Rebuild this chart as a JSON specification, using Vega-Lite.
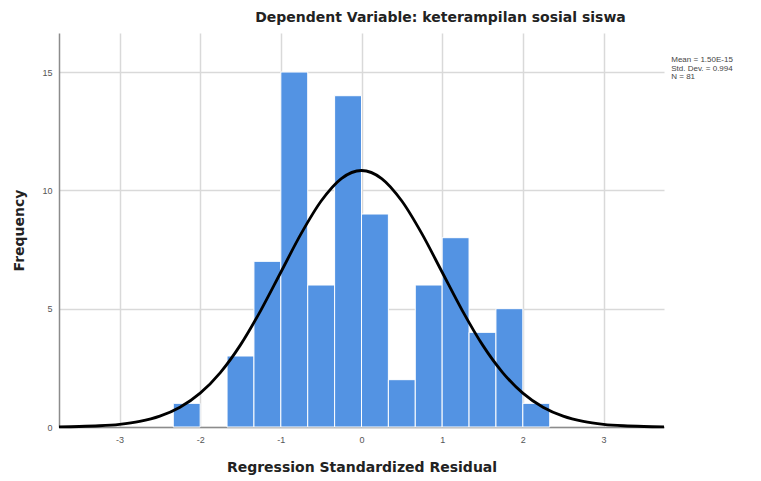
{
  "$schema": "https://vega.github.io/schema/vega-lite/v6.json",
  "width": 605,
  "height": 394,
  "autosize": {"type": "none"},
  "padding": {"left": 59, "top": 33, "right": 97, "bottom": 54},
  "background": "white",
  "title": {
    "text": "Dependent Variable: keterampilan sosial siswa",
    "font": "DejaVu Sans",
    "fontSize": 14,
    "fontWeight": "bold",
    "color": "#222222",
    "anchor": "middle",
    "dx": 79,
    "offset": 8
  },
  "config": {
    "view": {"stroke": null},
    "axis": {
      "grid": true,
      "gridColor": "#d9d9d9",
      "gridWidth": 1.5,
      "domainColor": "#8c8c8c",
      "domainWidth": 1.5,
      "ticks": false,
      "labelFont": "Liberation Sans",
      "labelFontSize": 9,
      "labelColor": "#555555",
      "titleFont": "DejaVu Sans",
      "titleFontSize": 14,
      "titleFontWeight": "bold",
      "titleColor": "#222222"
    }
  },
  "datasets": {
    "bins": [
      {"x0": -2.3333, "x1": -2.0, "count": 1},
      {"x0": -1.6667, "x1": -1.3333, "count": 3},
      {"x0": -1.3333, "x1": -1.0, "count": 7},
      {"x0": -1.0, "x1": -0.6667, "count": 15},
      {"x0": -0.6667, "x1": -0.3333, "count": 6},
      {"x0": -0.3333, "x1": 0.0, "count": 14},
      {"x0": 0.0, "x1": 0.3333, "count": 9},
      {"x0": 0.3333, "x1": 0.6667, "count": 2},
      {"x0": 0.6667, "x1": 1.0, "count": 6},
      {"x0": 1.0, "x1": 1.3333, "count": 8},
      {"x0": 1.3333, "x1": 1.6667, "count": 4},
      {"x0": 1.6667, "x1": 2.0, "count": 5},
      {"x0": 2.0, "x1": 2.3333, "count": 1}
    ],
    "curve": [
      {"x": -3.75, "y": 0.009},
      {"x": -3.5, "y": 0.022},
      {"x": -3.25, "y": 0.052},
      {"x": -3.0, "y": 0.114},
      {"x": -2.75, "y": 0.236},
      {"x": -2.5, "y": 0.458},
      {"x": -2.25, "y": 0.836},
      {"x": -2.0, "y": 1.43},
      {"x": -1.75, "y": 2.30},
      {"x": -1.5, "y": 3.47},
      {"x": -1.25, "y": 4.92},
      {"x": -1.0, "y": 6.54},
      {"x": -0.75, "y": 8.16},
      {"x": -0.5, "y": 9.55},
      {"x": -0.25, "y": 10.50},
      {"x": 0.0, "y": 10.84},
      {"x": 0.25, "y": 10.50},
      {"x": 0.5, "y": 9.55},
      {"x": 0.75, "y": 8.16},
      {"x": 1.0, "y": 6.54},
      {"x": 1.25, "y": 4.92},
      {"x": 1.5, "y": 3.47},
      {"x": 1.75, "y": 2.30},
      {"x": 2.0, "y": 1.43},
      {"x": 2.25, "y": 0.836},
      {"x": 2.5, "y": 0.458},
      {"x": 2.75, "y": 0.236},
      {"x": 3.0, "y": 0.114},
      {"x": 3.25, "y": 0.052},
      {"x": 3.5, "y": 0.022},
      {"x": 3.75, "y": 0.009}
    ],
    "stats": [
      {"x": 3.84, "y": 15.5, "label": "Mean = 1.50E-15"},
      {"x": 3.84, "y": 15.14, "label": "Std. Dev. = 0.994"},
      {"x": 3.84, "y": 14.78, "label": "N = 81"}
    ]
  },
  "layer": [
    {
      "data": {"name": "bins"},
      "mark": {"type": "rect", "color": "#5393e3", "stroke": "white", "strokeWidth": 1},
      "encoding": {
        "x": {
          "field": "x0", "type": "quantitative",
          "scale": {"domain": [-3.75, 3.75], "nice": false, "zero": false},
          "axis": {"values": [-3, -2, -1, 0, 1, 2, 3], "labelExpr": "'' + datum.value", "title": "Regression Standardized Residual", "labelPadding": 8, "titlePadding": 16}
        },
        "x2": {"field": "x1"},
        "y": {
          "field": "count", "type": "quantitative",
          "scale": {"domain": [0, 16.65], "nice": false},
          "axis": {"values": [0, 5, 10, 15], "title": "Frequency", "labelPadding": 7, "titlePadding": 15}
        },
        "y2": {"datum": 0}
      }
    },
    {
      "data": {"name": "curve"},
      "mark": {"type": "line", "color": "black", "strokeWidth": 2.8, "interpolate": "monotone"},
      "encoding": {
        "x": {"field": "x", "type": "quantitative"},
        "y": {"field": "y", "type": "quantitative"}
      }
    },
    {
      "data": {"name": "stats"},
      "mark": {"type": "text", "align": "left", "baseline": "middle", "font": "Liberation Sans", "fontSize": 8, "color": "#444444", "clip": false},
      "encoding": {
        "x": {"field": "x", "type": "quantitative"},
        "y": {"field": "y", "type": "quantitative"},
        "text": {"field": "label"}
      }
    }
  ]
}
